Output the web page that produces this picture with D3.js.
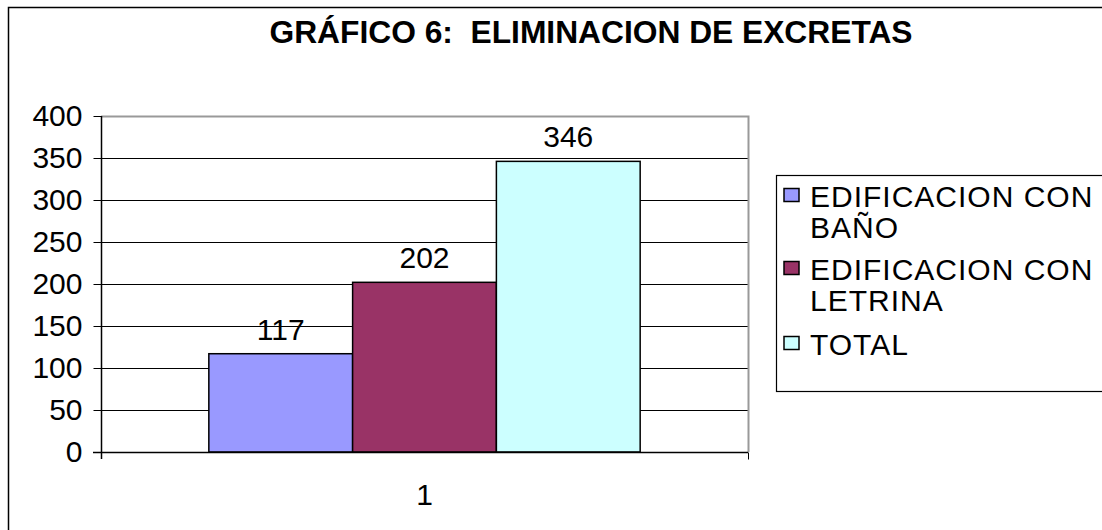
<!DOCTYPE html>
<html>
<head>
<meta charset="utf-8">
<script src="https://cdn.jsdelivr.net/npm/d3@7.9.0/dist/d3.min.js"></script>
<style>
  body { margin: 0; background: #fff; }
  svg { display: block; font-family: 'Liberation Sans', Arial, sans-serif; }
</style>
</head>
<body>
<div id="chart"></div>
<script>
const title = 'GRÁFICO 6:  ELIMINACION DE EXCRETAS';
const categories = ['1'];
const seriesNames = [['EDIFICACION CON', 'BAÑO'], ['EDIFICACION CON', 'LETRINA'], ['TOTAL']];
const seriesValues = [117, 202, 346];
const seriesColors = ['#9999ff', '#993366', '#ccffff'];
const yTicks = [0, 50, 100, 150, 200, 250, 300, 350, 400];

const width = 1102;
const height = 530;
const plot = { left: 101, right: 748, top: 116, bottom: 452 };
const fs = 30;

const svg = d3.select('#chart')
  .append('svg')
  .attr('width', width)
  .attr('height', height);

// chart area frame (runs off the right and bottom edge)
svg.append('rect')
  .attr('x', 8.5).attr('y', 7.5)
  .attr('width', 1200).attr('height', 600)
  .attr('fill', 'none').attr('stroke', '#000').attr('stroke-width', 1.5);

svg.append('text')
  .attr('x', 591).attr('y', 43)
  .attr('text-anchor', 'middle')
  .attr('font-weight', 'bold')
  .attr('font-size', 32)
  .attr('textLength', 643)
  .attr('lengthAdjust', 'spacingAndGlyphs')
  .style('white-space', 'pre')
  .text(title);

const x0 = d3.scaleBand()
  .domain(categories)
  .range([plot.left, plot.right]);

// gap width 150% of a bar -> 3 bars + 1.5 bar of gap
const barW = x0.bandwidth() / (seriesValues.length + 1.5);
const x1 = d3.scaleBand()
  .domain(d3.range(seriesValues.length))
  .range([0, barW * seriesValues.length]);

const y = d3.scaleLinear()
  .domain([0, 400])
  .range([plot.bottom, plot.top]);

// gridlines
svg.append('g')
  .selectAll('line')
  .data(yTicks.filter(d => d > 0 && d < 400))
  .join('line')
  .attr('x1', plot.left).attr('x2', plot.right)
  .attr('y1', d => Math.round(y(d)) + 0.5).attr('y2', d => Math.round(y(d)) + 0.5)
  .attr('stroke', '#000');

// plot area border top / right
svg.append('path')
  .attr('d', `M${plot.left},${plot.top + 0.5}H${plot.right + 0.5}V${plot.bottom}`)
  .attr('fill', 'none').attr('stroke', '#999').attr('stroke-width', 2);

// bars
const barsG = svg.append('g')
  .attr('transform', `translate(${x0(categories[0]) + barW * 0.75},0)`);

barsG.selectAll('rect')
  .data(seriesValues)
  .join('rect')
  .attr('x', (d, i) => x1(i))
  .attr('y', d => y(d))
  .attr('width', x1.bandwidth())
  .attr('height', d => plot.bottom - y(d))
  .attr('fill', (d, i) => seriesColors[i])
  .attr('stroke', '#000')
  .attr('stroke-width', 1.5);

barsG.selectAll('text')
  .data(seriesValues)
  .join('text')
  .attr('x', (d, i) => x1(i) + x1.bandwidth() / 2)
  .attr('y', d => y(d) - 14)
  .attr('text-anchor', 'middle')
  .attr('font-size', fs)
  .text(d => d);

// y axis
const yAxis = svg.append('g')
  .attr('transform', `translate(${plot.left + 0.5},0)`)
  .call(d3.axisLeft(y).tickValues(yTicks).tickSize(8).tickPadding(11));
yAxis.attr('font-size', null).attr('font-family', null);
yAxis.selectAll('text').attr('font-size', fs).attr('fill', '#000');
yAxis.select('.domain').attr('d', `M0,${plot.top}V${plot.bottom + 7}`).attr('stroke', '#000').attr('stroke-width', 1.5);
yAxis.selectAll('.tick line').attr('stroke', '#000');

// x axis
const xAxis = svg.append('g')
  .attr('transform', `translate(0,${plot.bottom + 0.5})`)
  .call(d3.axisBottom(x0).tickSize(0).tickPadding(31));
xAxis.attr('font-size', null).attr('font-family', null);
xAxis.selectAll('text').attr('font-size', fs).attr('fill', '#000');
xAxis.select('.domain').attr('d', `M${plot.left - 8},0H${plot.right}`).attr('stroke', '#000').attr('stroke-width', 1.5);
xAxis.append('line')
  .attr('x1', plot.right + 0.5).attr('x2', plot.right + 0.5)
  .attr('y1', 0).attr('y2', 7).attr('stroke', '#000');

// legend
const legend = svg.append('g');
legend.append('rect')
  .attr('x', 776.5).attr('y', 175.5)
  .attr('width', 400).attr('height', 216)
  .attr('fill', '#fff').attr('stroke', '#000').attr('stroke-width', 1.2);

const itemBaselines = [207, 280, 355];
const lineH = 31;
seriesNames.forEach((lines, i) => {
  const g = legend.append('g').attr('transform', `translate(0,${itemBaselines[i]})`);
  g.append('rect')
    .attr('x', 784).attr('y', -18.5)
    .attr('width', 15).attr('height', 13)
    .attr('fill', seriesColors[i]).attr('stroke', '#000').attr('stroke-width', 1.5);
  lines.forEach((t, j) => {
    g.append('text')
      .attr('x', 810).attr('y', j * lineH)
      .attr('font-size', fs)
      .attr('letter-spacing', 1)
      .text(t);
  });
});
</script>
</body>
</html>
